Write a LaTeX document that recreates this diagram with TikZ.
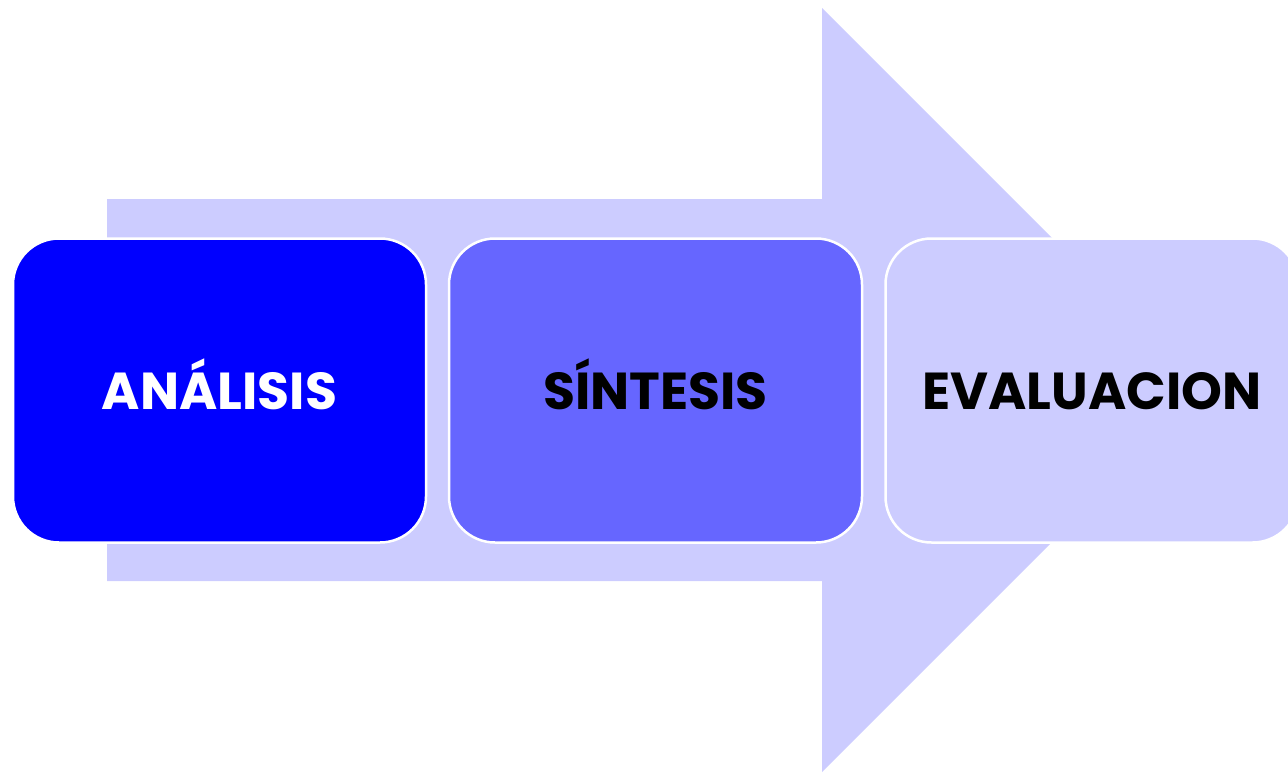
\documentclass[tikz,border=0pt]{standalone}
\usepackage{fontspec}
\setmainfont{Poppins}
\definecolor{arrowfill}{HTML}{CCCCFF}
\definecolor{boxA}{HTML}{0000FF}
\definecolor{boxB}{HTML}{6666FF}
\definecolor{boxC}{HTML}{CCCCFF}
\begin{document}
\begin{tikzpicture}[x=1pt,y=-1pt,
  stagebox/.style={draw=white, line width=2.5pt, rounded corners=46pt,
    minimum width=413pt, minimum height=304pt, inner sep=0pt,
    text height=37pt, text depth=0pt,
    font=\fontsize{52}{60}\selectfont\bfseries},
]
\useasboundingbox (0,0) rectangle (1288,772);
\begin{scope}
\clip (0,0) rectangle (1288,772);
\fill[arrowfill] (107,199) -- (822,199) -- (822,8) -- (1204,390) -- (822,772) -- (822,581) -- (107,581) -- cycle;
\node[stagebox, fill=boxA, text=white] (analisis) at (219.5,390.5) {ANÁLISIS};
\node[stagebox, fill=boxB, text=black] (sintesis) at (655.5,390.5) {SÍNTESIS};
\node[stagebox, fill=boxC, text=black] (evaluacion) at (1092,390.5) {EVALUACION};
\end{scope}
\end{tikzpicture}
\end{document}
